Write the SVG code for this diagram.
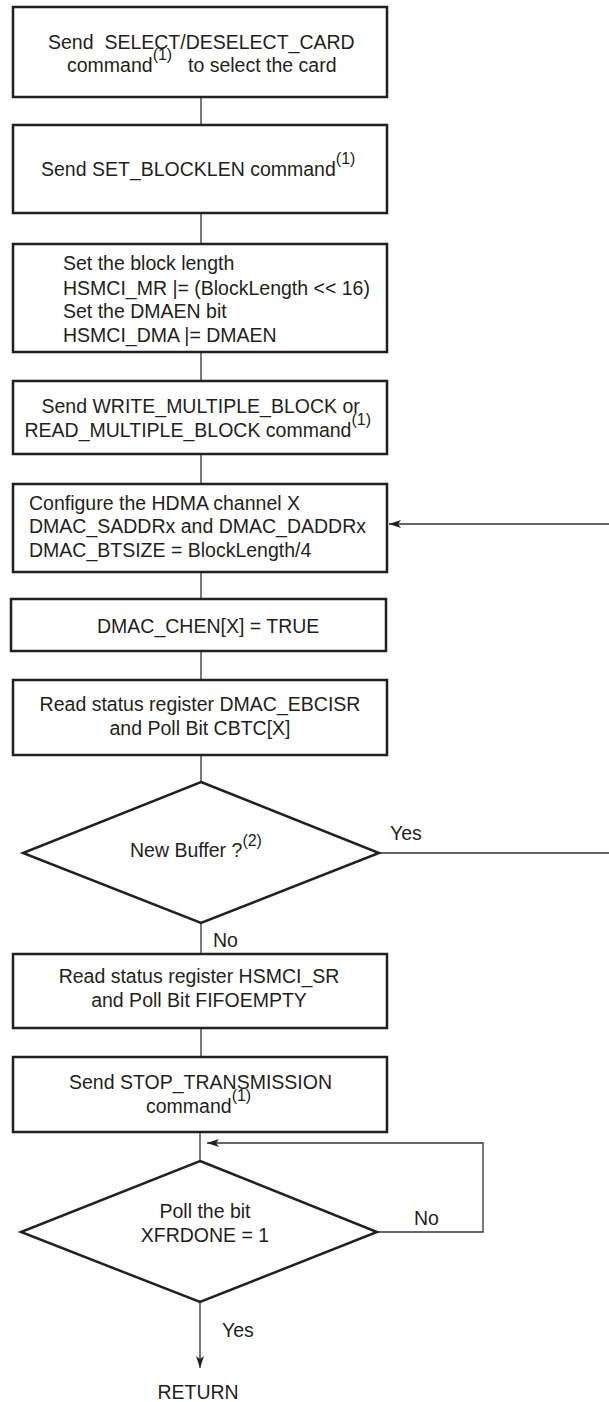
<svg xmlns="http://www.w3.org/2000/svg" width="609" height="1402" viewBox="0 0 609 1402">
<style>
.box{fill:#fff;stroke:#231f20;stroke-width:2.5}
.conn{fill:none;stroke:#333;stroke-width:1.3}
text{font-family:"Liberation Sans",Arial,sans-serif;font-size:19.5px;fill:#231f20}
.sup{font-size:16px}
.c{text-anchor:middle}
</style>
<defs>
<marker id="arr" viewBox="0 0 12 8" refX="12" refY="4" markerWidth="12" markerHeight="8" markerUnits="userSpaceOnUse" orient="auto">
<path d="M0,0 L12,4 L0,8 L3,4 Z" fill="#231f20"/>
</marker>
</defs>
<rect width="609" height="1402" fill="#fff"/>
<g id="connectors">
<line class="conn" x1="201" y1="97" x2="201" y2="125"/>
<line class="conn" x1="201" y1="213" x2="201" y2="244"/>
<line class="conn" x1="201" y1="352" x2="201" y2="381"/>
<line class="conn" x1="201" y1="454" x2="201" y2="484"/>
<line class="conn" x1="201" y1="572" x2="201" y2="599"/>
<line class="conn" x1="201" y1="651" x2="201" y2="680"/>
<line class="conn" x1="201" y1="755" x2="201" y2="782"/>
<line class="conn" x1="201" y1="923" x2="201" y2="954"/>
<line class="conn" x1="201" y1="1028" x2="201" y2="1057"/>
<line class="conn" x1="200" y1="1132" x2="200" y2="1161"/>
<line class="conn" x1="609" y1="524" x2="389" y2="524" marker-end="url(#arr)"/>
<line class="conn" x1="379" y1="853" x2="609" y2="853"/>
<path class="conn" d="M377,1232 H483 V1143 H207" marker-end="url(#arr)"/>
<line class="conn" x1="200" y1="1302" x2="200" y2="1368" marker-end="url(#arr)"/>
<text x="390" y="840">Yes</text>
<text x="213" y="947">No</text>
<text x="414" y="1225">No</text>
<text x="222" y="1337">Yes</text>
</g>
<g id="n1">
<rect class="box" x="13" y="7" width="374" height="90"/>
<text x="48" y="49" xml:space="preserve">Send  SELECT/DESELECT_CARD</text>
<text x="67" y="72">command<tspan class="sup" dy="-12">(1)</tspan></text>
<text x="188" y="72">to select the card</text>
</g>
<g id="n2">
<rect class="box" x="13" y="125" width="374" height="88"/>
<text x="41" y="176">Send SET_BLOCKLEN command<tspan class="sup" dy="-12">(1)</tspan></text>
</g>
<g id="n3">
<rect class="box" x="13" y="244" width="374" height="108"/>
<text x="63" y="270">Set the block length</text>
<text x="63" y="295">HSMCI_MR |= (BlockLength &lt;&lt; 16)</text>
<text x="63" y="318">Set the DMAEN bit</text>
<text x="63" y="342">HSMCI_DMA |= DMAEN</text>
</g>
<g id="n4">
<rect class="box" x="13" y="381" width="374" height="73"/>
<text x="41.5" y="413">Send WRITE_MULTIPLE_BLOCK or</text>
<text x="24.5" y="437">READ_MULTIPLE_BLOCK command<tspan class="sup" dy="-12">(1)</tspan></text>
</g>
<g id="n5">
<rect class="box" x="13" y="484" width="374" height="88"/>
<text x="29" y="510">Configure the HDMA channel X</text>
<text x="29" y="533">DMAC_SADDRx and DMAC_DADDRx</text>
<text x="29" y="557">DMAC_BTSIZE = BlockLength/4</text>
</g>
<g id="n6">
<rect class="box" x="11" y="599" width="375" height="52"/>
<text x="97" y="633">DMAC_CHEN[X] = TRUE</text>
</g>
<g id="n7">
<rect class="box" x="13" y="680" width="374" height="75"/>
<text class="c" x="200" y="711">Read status register DMAC_EBCISR</text>
<text class="c" x="200" y="735">and Poll Bit CBTC[X]</text>
</g>
<g id="d1">
<polygon class="box" points="201,782 379,853 201,923 23,853"/>
<text x="130" y="857">New Buffer ?<tspan class="sup" dy="-11">(2)</tspan></text>
</g>
<g id="n8">
<rect class="box" x="13" y="954" width="374" height="74"/>
<text class="c" x="199" y="983">Read status register HSMCI_SR</text>
<text class="c" x="199" y="1007">and Poll Bit FIFOEMPTY</text>
</g>
<g id="n9">
<rect class="box" x="13" y="1057" width="374" height="75"/>
<text x="69" y="1089">Send STOP_TRANSMISSION</text>
<text x="146" y="1113">command<tspan class="sup" dy="-12">(1)</tspan></text>
</g>
<g id="d2">
<polygon class="box" points="200,1161 377,1232 200,1302 21,1232"/>
<text class="c" x="205" y="1218">Poll the bit</text>
<text class="c" x="205" y="1242">XFRDONE = 1</text>
</g>
<g id="ret">
<text class="c" x="198" y="1399">RETURN</text>
</g>
</svg>
